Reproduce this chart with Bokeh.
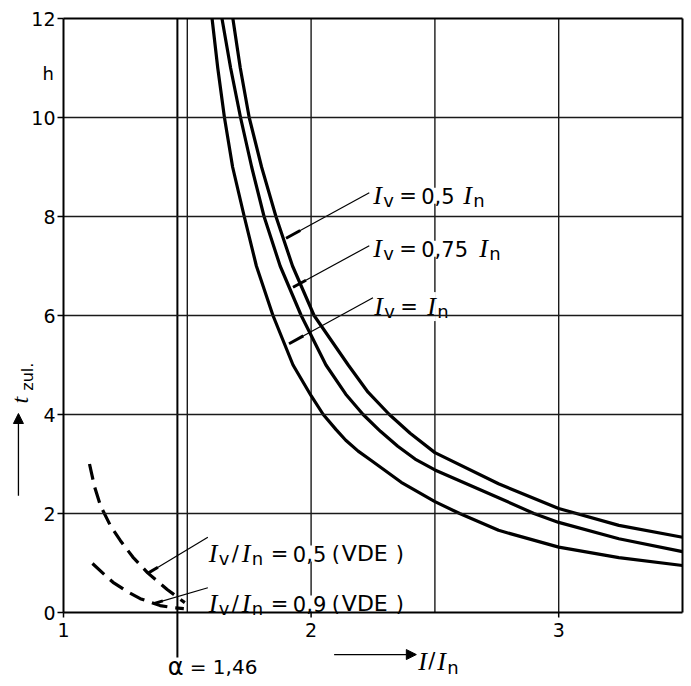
import math
from bokeh.plotting import figure
from bokeh.models import Range1d, Label, Arrow, NormalHead
from bokeh.core.properties import value
from bokeh.embed import file_html
from bokeh.resources import INLINE

# ---------------- data ----------------
# permissible time t_zul. (h) versus I/I_n
i05_x = [1.684, 1.714, 1.75, 1.80, 1.858, 1.925, 2.012, 2.15, 2.23, 2.316, 2.4, 2.5, 2.757, 3.0, 3.243, 3.5]
i05_y = [12, 11, 10, 9, 8, 7, 6, 5, 4.45, 4, 3.62, 3.23, 2.6, 2.10, 1.76, 1.52]

i075_x = [1.64, 1.675, 1.715, 1.76, 1.81, 1.875, 1.96, 2.06, 2.14, 2.21, 2.28, 2.35, 2.42, 2.5, 2.757, 2.9, 3.0, 3.243, 3.5]
i075_y = [12, 11, 10, 9, 8, 7, 6, 5, 4.41, 4, 3.66, 3.36, 3.1, 2.88, 2.32, 2.0, 1.82, 1.49, 1.23]

i1_x = [1.60, 1.623, 1.65, 1.683, 1.73, 1.779, 1.846, 1.927, 2.0, 2.049, 2.10, 2.14, 2.19, 2.243, 2.364, 2.5, 2.6, 2.757, 3.0, 3.243, 3.5]
i1_y = [12, 11, 10, 9, 8, 7, 6, 5, 4.38, 4.0, 3.7, 3.48, 3.26, 3.07, 2.63, 2.24, 2.0, 1.66, 1.32, 1.11, 0.95]

vde05_x = [1.105, 1.125, 1.15, 1.19, 1.23, 1.28, 1.34, 1.42, 1.49]
vde05_y = [3.0, 2.55, 2.15, 1.75, 1.45, 1.12, 0.8, 0.46, 0.2]

vde09_x = [1.117, 1.16, 1.20, 1.255, 1.31, 1.39, 1.44, 1.486]
vde09_y = [0.99, 0.79, 0.61, 0.43, 0.28, 0.14, 0.10, 0.08]

alpha = 1.46

x_lim = [1, 3.5]
y_lim = [0, 12]
x_ticks = [1, 2, 3]
x_tick_labels = ["1", "2", "3"]
y_ticks = [0, 2, 4, 6, 8, 10, 12]
y_tick_labels = ["0", "2", "4", "6", "8", "10", "12"]
x_grid = [1.5, 2, 2.5, 3]
y_grid = [2, 4, 6, 8, 10]

# leader lines (curve point -> label)
lead_x0 = [1.899, 1.927, 1.911, 1.34, 1.364]
lead_y0 = [7.56, 6.57, 5.43, 0.79, 0.18]
lead_x1 = [2.235, 2.235, 2.25, 1.583, 1.583]
lead_y1 = [8.48, 7.41, 6.36, 1.52, 0.5]

SANS = "DejaVu Sans"
SERIF = "Liberation Serif"

# ---------------- layout ----------------
W, H = 691, 686
FL, FR, FT, FB = 63, 682, 18, 612          # plot box in pixels
PPX = (FR - FL) / (x_lim[1] - x_lim[0])     # pixels per x unit
PPY = (FB - FT) / (y_lim[1] - y_lim[0])     # pixels per y unit

p = figure(width=W, height=H, output_backend="svg", toolbar_location=None,
           x_axis_type=None, y_axis_type=None,
           x_range=Range1d(x_lim[0] - FL / PPX, x_lim[1] + (W - FR) / PPX),
           y_range=Range1d(y_lim[0] - (H - FB) / PPY, y_lim[1] + FT / PPY),
           min_border=0)
p.outline_line_color = None
p.background_fill_color = "white"
p.border_fill_color = "white"

# vertical grid (under labels), horizontal grid and frame (over label backgrounds)
p.segment(x_grid, [y_lim[0]] * len(x_grid), x_grid, [y_lim[1]] * len(x_grid),
          line_color="#1a1a1a", line_width=1.4, level="underlay")
p.segment([x_lim[0]] * len(y_grid), y_grid, [x_lim[1]] * len(y_grid), y_grid,
          line_color="#1a1a1a", line_width=1.4, level="overlay")
p.segment([x_lim[0], x_lim[0], x_lim[1], x_lim[0]], [y_lim[0], y_lim[0], y_lim[0], y_lim[1]],
          [x_lim[1], x_lim[0], x_lim[1], x_lim[1]], [y_lim[0], y_lim[1], y_lim[1], y_lim[1]],
          line_color="black", line_width=2, level="overlay")

# ticks and tick labels
p.segment([x_lim[0]] * len(y_ticks), y_ticks, [x_lim[0] - 6 / PPX] * len(y_ticks), y_ticks,
          line_color="black", line_width=1.5)
p.segment(x_ticks, [y_lim[0]] * len(x_ticks), x_ticks, [y_lim[0] - 5 / PPY] * len(x_ticks),
          line_color="black", line_width=1.5)
p.text([x_lim[0] - 8 / PPX] * len(y_ticks), y_ticks, text=y_tick_labels,
       text_font=value(SANS), text_font_size=value("19px"), text_align="right",
       text_baseline="middle", text_color="black")
p.text(x_ticks, [y_lim[0] - 10 / PPY] * len(x_ticks), text=x_tick_labels,
       text_font=value(SANS), text_font_size=value("19px"), text_align="center",
       text_baseline="top", text_color="black")

# alpha line (extends below the axis)
p.segment([alpha], [y_lim[0] - 45 / PPY], [alpha], [y_lim[1]], line_color="black", line_width=2)

# curves
for xs, ys in ((i05_x, i05_y), (i075_x, i075_y), (i1_x, i1_y)):
    p.line(xs, ys, line_color="black", line_width=3.2, line_join="round")
for xs, ys in ((vde05_x, vde05_y), (vde09_x, vde09_y)):
    p.line(xs, ys, line_color="black", line_width=3.2, line_dash="16 8", line_join="round")

# leaders with a short thick stub at the curve end
p.segment(lead_x0, lead_y0, lead_x1, lead_y1, line_color="black", line_width=1.2)
stub_x1 = [a + 0.17 * (b - a) for a, b in zip(lead_x0, lead_x1)]
stub_y1 = [a + 0.17 * (b - a) for a, b in zip(lead_y0, lead_y1)]
p.segment(lead_x0, lead_y0, stub_x1, stub_y1, line_color="black", line_width=3)


def piece(x, y, txt, dx=0, size=21, font=SANS, style="normal", angle=0, bg=True):
    p.add_layout(Label(x=x, y=y, x_offset=dx, text=txt, text_font=font,
                       text_font_size=f"{size}px", text_font_style=style,
                       text_color="black", text_baseline="alphabetic",
                       text_align="left", angle=angle,
                       background_fill_color="white" if bg else None))


def I_sub(x, y, dx, sub, bg=True):
    piece(x, y, "I", dx, 26, SERIF, "italic", bg=bg)
    piece(x, y - 0.1, sub, dx + 10, 18, bg=bg)


# I_v = 0,5 I_n  /  0,75  /  I_n
lab_x = [2.251, 2.251, 2.255]
lab_y = [8.42, 7.35, 6.18]
I_sub(lab_x[0], lab_y[0], 0, "v")
piece(lab_x[0], lab_y[0], "=", 26)
piece(lab_x[0], lab_y[0], "0,5", 48)
I_sub(lab_x[0], lab_y[0], 90, "n")

I_sub(lab_x[1], lab_y[1], 0, "v")
piece(lab_x[1], lab_y[1], "=", 26)
piece(lab_x[1], lab_y[1], "0,75", 48)
I_sub(lab_x[1], lab_y[1], 106, "n")

I_sub(lab_x[2], lab_y[2], 0, "v")
piece(lab_x[2], lab_y[2], "=", 26)
I_sub(lab_x[2], lab_y[2], 53, "n")

# VDE labels
vde_x = 1.587
vde_y = [1.19, 0.18]
vde_val = ["0,5", "0,9"]
for yy, val in zip(vde_y, vde_val):
    I_sub(vde_x, yy, 0, "v")
    piece(vde_x, yy, "/", 23)
    I_sub(vde_x, yy, 33, "n")
    piece(vde_x, yy, "=", 62)
    piece(vde_x, yy, val, 84)
    piece(vde_x, yy, "(", 123)
    piece(vde_x, yy, "VDE", 133, 22)
    piece(vde_x, yy, ")", 187)

# alpha label
piece(1.421, -1.10, "α", 0, 24, bg=False)
piece(1.421, -1.10, "= 1,46", 22, 20, bg=False)

# x axis title with arrow
p.add_layout(Arrow(x_start=2.093, y_start=-0.85, x_end=2.425, y_end=-0.85,
                   line_color="black", line_width=1.3,
                   end=NormalHead(size=10, fill_color="black", line_color="black")))
piece(2.433, -0.98, "I", 0, 26, SERIF, "italic", bg=False)
piece(2.433, -0.98, "/", 10, 21, bg=False)
piece(2.433, -0.98, "I", 19, 26, SERIF, "italic", bg=False)
piece(2.433, -1.12, "n", 29, 18, bg=False)

# y axis title with arrow
p.add_layout(Arrow(x_start=0.818, y_start=2.36, x_end=0.818, y_end=4.02,
                   line_color="black", line_width=1.3,
                   end=NormalHead(size=10, fill_color="black", line_color="black")))
piece(0.826, 4.22, "t", 0, 24, SERIF, "italic", angle=math.pi / 2, bg=False)
piece(0.855, 4.48, "zul.", 0, 16, angle=math.pi / 2, bg=False)

# unit
piece(0.915, 10.89, "h", 0, 18, bg=False)

open("out.html", "w").write(file_html(p, INLINE))
